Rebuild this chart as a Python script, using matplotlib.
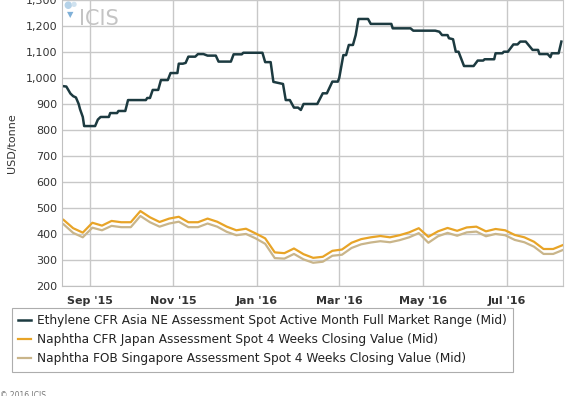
import numpy as np
import pandas as pd
import matplotlib
matplotlib.use('Agg')
import matplotlib.pyplot as plt
import matplotlib.dates as mdates
from matplotlib.ticker import FuncFormatter

# ethylene : prix en escalier
eth_dates = ['2015-08-12', '2015-08-15', '2015-08-16', '2015-08-18', '2015-08-20', '2015-08-22',
             '2015-08-24', '2015-08-25', '2015-08-27', '2015-08-28', '2015-09-05', '2015-09-07',
             '2015-09-09', '2015-09-15', '2015-09-16', '2015-09-21', '2015-09-22', '2015-09-27',
             '2015-09-29', '2015-10-12', '2015-10-13', '2015-10-15', '2015-10-17', '2015-10-21',
             '2015-10-23', '2015-10-28', '2015-10-30', '2015-11-04', '2015-11-05', '2015-11-08',
             '2015-11-10', '2015-11-12', '2015-11-17', '2015-11-19', '2015-11-23', '2015-11-26',
             '2015-12-02', '2015-12-04', '2015-12-13', '2015-12-15', '2015-12-21', '2015-12-22',
             '2016-01-05', '2016-01-07', '2016-01-11', '2016-01-13', '2016-01-20', '2016-01-22',
             '2016-01-25', '2016-01-28', '2016-01-31', '2016-02-02', '2016-02-04', '2016-02-14',
             '2016-02-18', '2016-02-21', '2016-02-25', '2016-02-29', '2016-03-01', '2016-03-04',
             '2016-03-06', '2016-03-08', '2016-03-11', '2016-03-13', '2016-03-15', '2016-03-22',
             '2016-03-24', '2016-04-08', '2016-04-09', '2016-04-22', '2016-04-24', '2016-05-10',
             '2016-05-13', '2016-05-15', '2016-05-19', '2016-05-20', '2016-05-23', '2016-05-25',
             '2016-05-27', '2016-05-31', '2016-06-07', '2016-06-10', '2016-06-14', '2016-06-15',
             '2016-06-22', '2016-06-23', '2016-06-28', '2016-06-29', '2016-07-02', '2016-07-06',
             '2016-07-09', '2016-07-11', '2016-07-15', '2016-07-20', '2016-07-24', '2016-07-25',
             '2016-07-31', '2016-08-02', '2016-08-03', '2016-08-08', '2016-08-10']
eth_vals = [969, 967, 958, 940, 930, 925,
            900, 880, 850, 815, 815, 840,
            850, 850, 865, 865, 873, 873,
            915, 915, 923, 923, 954, 954,
            992, 992, 1019, 1019, 1055, 1055,
            1058, 1082, 1082, 1092, 1092, 1086,
            1086, 1063, 1063, 1091, 1091, 1097,
            1097, 1061, 1061, 985, 977, 915,
            915, 886, 886, 877, 900, 900,
            941, 941, 986, 986, 1000, 1088,
            1088, 1127, 1127, 1165, 1227, 1227,
            1208, 1208, 1191, 1191, 1182, 1182,
            1178, 1165, 1165, 1153, 1149, 1101,
            1101, 1046, 1046, 1067, 1067, 1072,
            1072, 1095, 1095, 1101, 1101, 1129,
            1129, 1140, 1140, 1108, 1108, 1092,
            1092, 1080, 1095, 1095, 1140]

# naphtha : valeurs hebdomadaires
naph_dates = pd.date_range('2015-08-13', periods=53, freq='7D')
naph_japan = [454, 422, 405, 443, 432, 450, 445, 445, 488, 464,
              446, 459, 466, 445, 445, 459, 447, 428, 414, 420,
              402, 383, 329, 326, 344, 322, 308, 312, 335, 340,
              366, 380, 387, 392, 387, 395, 406, 422, 389, 410,
              423, 412, 425, 428, 410, 419, 414, 396, 387, 370,
              342, 342, 357]
naph_sing = [437, 404, 387, 424, 414, 431, 426, 426, 469, 445,
             428, 440, 447, 426, 426, 440, 428, 408, 395, 400,
             383, 362, 307, 305, 323, 302, 289, 293, 316, 320,
             346, 360, 367, 372, 368, 376, 387, 403, 366, 391,
             404, 393, 406, 409, 391, 400, 395, 377, 368, 351,
             323, 323, 338]

noms = ['Ethylene CFR Asia NE Assessment Spot Active Month Full Market Range (Mid)',
        'Naphtha CFR Japan Assessment Spot 4 Weeks Closing Value (Mid)',
        'Naphtha FOB Singapore Assessment Spot 4 Weeks Closing Value (Mid)']
couleurs = ['#1c3a40', '#e8a427', '#c9b58a']

fig = plt.figure(figsize=(5.76, 3.96), dpi=100)
ax = fig.add_axes([0.108, 0.278, 0.869, 0.722])

ax.plot(pd.to_datetime(eth_dates), eth_vals, color=couleurs[0], lw=1.8, label=noms[0])
ax.plot(naph_dates, naph_japan, color=couleurs[1], lw=1.6, label=noms[1])
ax.plot(naph_dates, naph_sing, color=couleurs[2], lw=1.6, label=noms[2])

ax.set_xlim(pd.Timestamp('2015-08-12'), pd.Timestamp('2016-08-11'))
ax.set_ylim(200, 1300)
ax.set_yticks(np.arange(200, 1301, 100))
ax.yaxis.set_major_formatter(FuncFormatter(lambda v, p: '{:,.0f}'.format(v)))
ax.xaxis.set_major_locator(mdates.MonthLocator(bymonth=[1, 3, 5, 7, 9, 11]))
ax.xaxis.set_major_formatter(mdates.DateFormatter("%b '%y"))

ax.grid(True, color='#c8c8c8', lw=1)
ax.set_axisbelow(True)
ax.spines['top'].set_visible(False)
ax.spines['right'].set_color('#c8c8c8')
ax.spines['left'].set_color('#c0c0c0')
ax.spines['bottom'].set_color('#c0c0c0')
ax.tick_params(length=0, labelsize=8, colors='#333333')
ax.tick_params(axis='x', pad=7)
for t in ax.get_xticklabels():
    t.set_fontweight('bold')
ax.set_ylabel('USD/tonne', fontsize=8, color='#333333', labelpad=6)

# logo ICIS en filigrane
ax.text(0.034, 0.935, 'ICIS', transform=ax.transAxes, fontsize=15, color='#c4c4c4',
        va='center', ha='left')
ax.text(0.002, 0.982, '\u25CF', transform=ax.transAxes, fontsize=7, color='#b5d2e8', va='center')
ax.text(0.016, 0.985, '\u25CF', transform=ax.transAxes, fontsize=5, color='#d0e2ef', va='center')
ax.text(0.009, 0.948, '\u25BC', transform=ax.transAxes, fontsize=6, color='#7fb0d8', va='center')

leg = fig.legend(loc='lower left', bbox_to_anchor=(0.010, 0.045), fontsize=8.7,
                 frameon=True, handlelength=1.0, handletextpad=0.5, borderpad=0.55,
                 labelspacing=0.5, fancybox=False, edgecolor='#999999')
leg.get_frame().set_linewidth(0.8)
for t in leg.get_texts():
    t.set_color('#222222')

fig.text(0.0, 0.0, '\u00a9 2016 ICIS', fontsize=5.5, color='#777777', va='center')

plt.savefig('out.png', dpi=100)
